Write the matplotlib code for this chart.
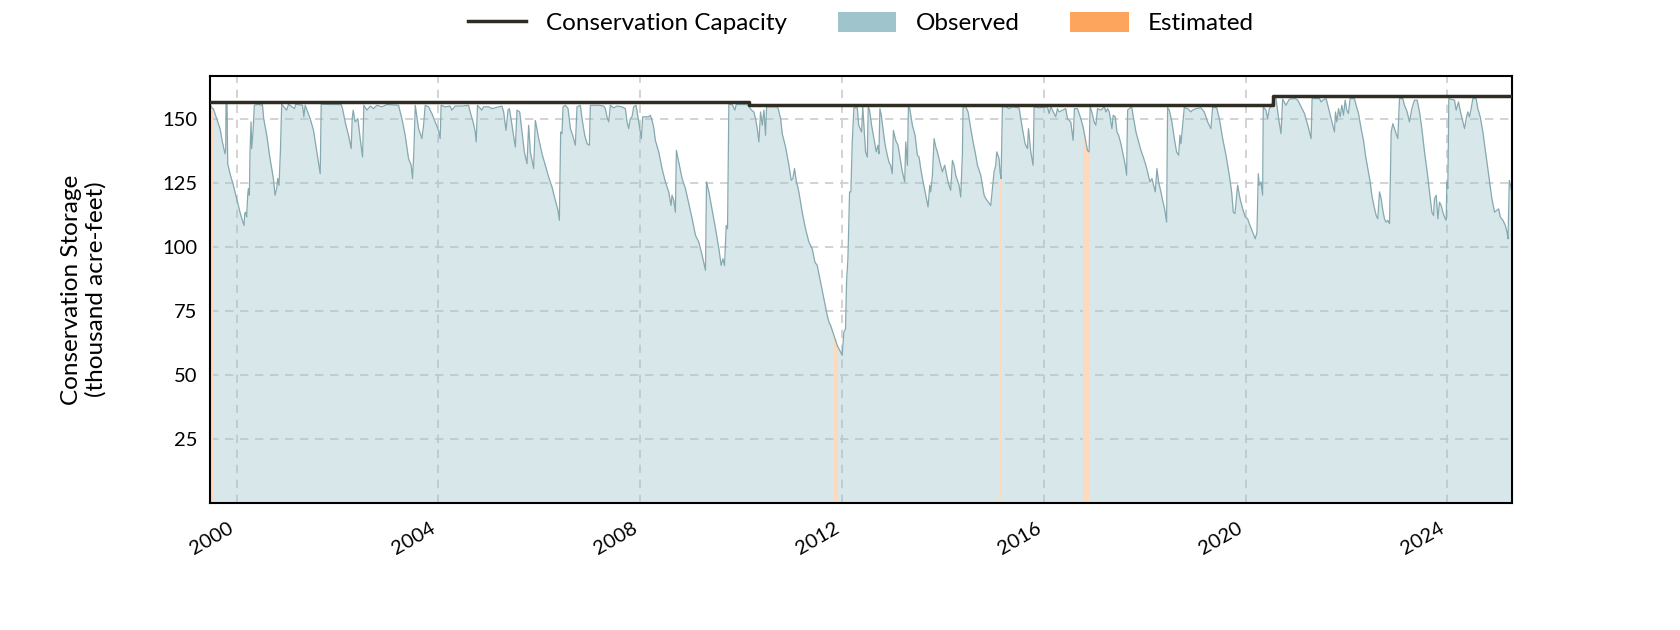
import numpy as np
import pandas as pd
import matplotlib
matplotlib.use("Agg")
import matplotlib.pyplot as plt
import matplotlib.dates as mdates
from matplotlib.lines import Line2D
from matplotlib.patches import Patch
from matplotlib.path import Path

plt.rcParams['font.family'] = ['Lato', 'DejaVu Sans']

# storage readings (decimal year, thousand acre-feet)
storage_year = [
    1999.471, 1999.517, 1999.537, 1999.603, 1999.670, 1999.716, 1999.769, 1999.782, 1999.789, 1999.808,
    1999.822, 1999.868, 1999.934, 2000.000, 2000.066, 2000.113, 2000.146, 2000.159, 2000.179, 2000.199,
    2000.219, 2000.232, 2000.252, 2000.265, 2000.285, 2000.298, 2000.324, 2000.351, 2000.430, 2000.483,
    2000.510, 2000.536, 2000.596, 2000.662, 2000.728, 2000.761, 2000.794, 2000.814, 2000.840, 2000.867,
    2000.893, 2000.992, 2001.025, 2001.144, 2001.171, 2001.303, 2001.330, 2001.356, 2001.455, 2001.521,
    2001.588, 2001.654, 2001.674, 2001.885, 2002.070, 2002.097, 2002.150, 2002.216, 2002.269, 2002.289,
    2002.309, 2002.348, 2002.401, 2002.447, 2002.494, 2002.520, 2002.580, 2002.646, 2002.712, 2002.778,
    2002.877, 2002.977, 2003.208, 2003.274, 2003.340, 2003.406, 2003.459, 2003.486, 2003.512, 2003.539,
    2003.605, 2003.671, 2003.704, 2003.737,
    2003.802, 2003.868, 2003.934, 2004.001, 2004.034, 2004.053, 2004.133, 2004.232, 2004.265, 2004.331,
    2004.463, 2004.596, 2004.629, 2004.695, 2004.728, 2004.748, 2004.774, 2004.860, 2004.893, 2004.993,
    2005.059, 2005.257, 2005.290, 2005.337, 2005.376, 2005.403, 2005.442, 2005.475, 2005.522, 2005.555,
    2005.608, 2005.654, 2005.700, 2005.753, 2005.786, 2005.819, 2005.852, 2005.885, 2005.918, 2005.985,
    2006.051, 2006.117, 2006.183, 2006.249, 2006.315, 2006.368, 2006.395, 2006.421, 2006.448, 2006.468,
    2006.514, 2006.567, 2006.613, 2006.659, 2006.712, 2006.745, 2006.811, 2006.844, 2006.897, 2006.944,
    2006.990, 2007.010, 2007.175, 2007.274, 2007.307, 2007.340, 2007.374, 2007.407, 2007.473, 2007.539,
    2007.638, 2007.704, 2007.737, 2007.770, 2007.803, 2007.836, 2007.869, 2007.916, 2007.969, 2008.022,
    2008.048, 2008.134,
    2008.167, 2008.200, 2008.233, 2008.266, 2008.299, 2008.366, 2008.432, 2008.498, 2008.564, 2008.610,
    2008.630, 2008.663, 2008.696, 2008.716, 2008.762, 2008.829, 2008.895, 2008.961, 2009.027, 2009.093,
    2009.159, 2009.225, 2009.291, 2009.311, 2009.358, 2009.424, 2009.490, 2009.556, 2009.602, 2009.635,
    2009.668, 2009.702, 2009.728, 2009.754, 2009.821, 2009.874, 2009.900, 2010.118, 2010.204, 2010.250,
    2010.284, 2010.317, 2010.350, 2010.383, 2010.416, 2010.449, 2010.482, 2010.502, 2010.713, 2010.733,
    2010.780, 2010.813, 2010.879, 2010.945, 2010.991, 2011.024, 2011.057, 2011.090, 2011.143, 2011.209,
    2011.275, 2011.342, 2011.408, 2011.461, 2011.507, 2011.573, 2011.639, 2011.705, 2011.739, 2011.772,
    2011.838, 2011.904, 2011.970, 2012.003, 2012.036, 2012.069, 2012.089, 2012.116, 2012.149, 2012.175,
    2012.202, 2012.235, 2012.301, 2012.330, 2012.387, 2012.410, 2012.466, 2012.500, 2012.519,
    2012.545, 2012.585, 2012.631, 2012.678, 2012.711, 2012.731, 2012.750, 2012.777, 2012.810, 2012.850,
    2012.896, 2012.929, 2012.962, 2012.995, 2013.015, 2013.061, 2013.108, 2013.160, 2013.194, 2013.240,
    2013.260, 2013.293, 2013.313, 2013.339, 2013.392, 2013.445, 2013.491, 2013.524, 2013.557, 2013.604,
    2013.656, 2013.703, 2013.736, 2013.756, 2013.789, 2013.822, 2013.855, 2013.888, 2013.934, 2013.987,
    2014.033, 2014.086, 2014.119, 2014.152, 2014.186, 2014.219, 2014.252, 2014.318, 2014.351, 2014.384,
    2014.397, 2014.450, 2014.496, 2014.549, 2014.596, 2014.648, 2014.682, 2014.715, 2014.748, 2014.781,
    2014.814, 2014.847, 2014.900, 2014.946, 2014.979, 2015.012, 2015.045, 2015.065, 2015.111, 2015.131,
    2015.151, 2015.178, 2015.244, 2015.310, 2015.376, 2015.508, 2015.541, 2015.574, 2015.627, 2015.674,
    2015.694, 2015.740, 2015.786, 2015.806, 2015.905, 2016.071, 2016.104, 2016.137, 2016.236, 2016.269,
    2016.302, 2016.434, 2016.467, 2016.533, 2016.580, 2016.606, 2016.666, 2016.732, 2016.778, 2016.831,
    2016.864, 2016.897,
    2016.917, 2016.950, 2016.996, 2017.029, 2017.062, 2017.129, 2017.195, 2017.228, 2017.261, 2017.294,
    2017.347, 2017.373, 2017.413, 2017.446, 2017.479, 2017.525, 2017.572, 2017.611, 2017.638, 2017.658,
    2017.691, 2017.737, 2017.777, 2017.823, 2017.876, 2017.922, 2017.969, 2018.021, 2018.061, 2018.101,
    2018.141, 2018.174, 2018.207, 2018.240, 2018.273, 2018.319, 2018.352, 2018.392, 2018.432, 2018.451,
    2018.484, 2018.537, 2018.584, 2018.630, 2018.670, 2018.696, 2018.716, 2018.749, 2018.782, 2018.848,
    2018.914, 2018.947, 2019.013, 2019.113, 2019.179, 2019.245, 2019.311, 2019.344, 2019.424, 2019.477,
    2019.543, 2019.609, 2019.675, 2019.721, 2019.754, 2019.787, 2019.820, 2019.840, 2019.887, 2019.940,
    2019.992, 2020.039, 2020.072, 2020.138, 2020.191, 2020.224, 2020.250, 2020.270, 2020.303, 2020.336,
    2020.349, 2020.402, 2020.435, 2020.469, 2020.502, 2020.548, 2020.601, 2020.654, 2020.700, 2020.733,
    2020.799, 2020.865, 2020.984, 2021.031, 2021.097, 2021.163, 2021.229, 2021.295,
    2021.315, 2021.395, 2021.461, 2021.494, 2021.527, 2021.593, 2021.626, 2021.659, 2021.692, 2021.725,
    2021.758, 2021.778, 2021.805, 2021.838, 2021.871, 2021.904, 2021.937, 2021.970, 2022.003, 2022.036,
    2022.069, 2022.155, 2022.188, 2022.235, 2022.287, 2022.334, 2022.373, 2022.420, 2022.466, 2022.499,
    2022.539, 2022.585, 2022.618, 2022.651, 2022.684, 2022.717, 2022.750, 2022.783, 2022.817, 2022.850,
    2022.883, 2022.916, 2022.949, 2022.982, 2023.015, 2023.048, 2023.114, 2023.147, 2023.200, 2023.246,
    2023.293, 2023.346, 2023.399, 2023.445, 2023.491, 2023.544, 2023.597, 2023.643, 2023.690, 2023.723,
    2023.743, 2023.776, 2023.809, 2023.842, 2023.875, 2023.908, 2023.941, 2023.974, 2023.987, 2024.007,
    2024.027, 2024.139, 2024.172, 2024.219, 2024.258, 2024.305, 2024.338, 2024.371, 2024.404, 2024.437,
    2024.470, 2024.503, 2024.569, 2024.602, 2024.649, 2024.701, 2024.768, 2024.834, 2024.880, 2024.933,
    2024.979, 2025.012, 2025.045, 2025.098, 2025.145, 2025.178, 2025.198, 2025.224, 2025.250, 2025.277,
]
storage_kaf = [
    155.6, 154.0, 153.9, 150.0, 146.1, 140.9, 136.3, 137.6, 155.6, 155.6,
    132.4, 128.5, 124.0, 118.8, 113.5, 110.3, 108.3, 112.9, 113.5, 111.6,
    120.1, 122.7, 120.1, 137.0, 148.7, 138.3, 144.8, 155.2, 155.6, 155.2,
    155.6, 150.0, 143.5, 134.4, 126.6, 120.1, 122.7, 126.6, 124.0, 137.0,
    155.6, 153.3, 155.6, 153.9, 155.6, 155.2, 150.7, 155.2, 150.0, 145.4,
    137.0, 128.5, 155.6, 155.5, 155.5, 153.9, 148.7, 143.5, 138.3, 150.0,
    153.3, 148.7, 150.0, 142.2, 135.0, 155.2, 153.3, 154.9, 153.9, 155.2,
    154.6, 155.5, 155.2, 150.0, 143.5, 134.4, 131.8, 126.6, 137.0, 155.2,
    146.1, 142.2, 147.4, 155.2,
    154.6, 152.0, 148.7, 145.4, 142.2, 155.2, 154.6, 154.9, 153.3, 154.9,
    154.9, 155.2, 152.6, 148.0, 144.8, 140.9, 155.2, 153.3, 154.6, 154.6,
    153.9, 154.9, 152.6, 145.4, 153.3, 153.9, 149.3, 144.8, 138.9, 153.3,
    152.6, 144.8, 137.0, 132.4, 147.4, 137.0, 133.7, 130.5, 149.3, 142.2,
    136.3, 131.8, 127.2, 123.3, 118.1, 114.2, 110.3, 144.8, 144.1, 154.6,
    155.2, 153.9, 146.1, 143.5, 139.6, 154.6, 155.2, 150.0, 143.5, 140.2,
    139.6, 155.2, 155.2, 154.9, 153.9, 150.7, 148.7, 155.2, 154.2, 154.9,
    154.6, 153.9, 148.7, 146.1, 150.0, 150.7, 154.6, 155.2, 148.7, 142.2,
    150.7, 150.7,
    150.7, 151.3, 149.3, 146.7, 141.5, 137.0, 130.5, 125.3, 121.4, 116.1,
    120.1, 118.1, 113.5, 137.6, 133.1, 126.6, 122.7, 116.8, 110.9, 104.4,
    101.8, 96.6, 90.8, 125.3, 121.4, 114.2, 107.0, 99.2, 92.7, 95.3,
    92.7, 108.3, 107.0, 155.6, 155.5, 153.3, 155.5, 155.5, 153.3, 152.6,
    150.0, 146.1, 140.9, 152.6, 147.4, 153.3, 143.5, 154.6, 154.6, 153.9,
    150.0, 144.1, 138.9, 131.8, 125.9, 126.6, 130.5, 125.9, 121.4, 113.5,
    107.0, 101.8, 99.2, 94.0, 92.7, 86.2, 79.7, 73.2, 70.6, 69.3,
    65.4, 61.5, 58.9, 57.6, 66.7, 68.0, 86.2, 95.3, 121.4, 121.4,
    140.9, 154.2, 154.2, 147.4, 144.8, 154.6, 137.0, 135.0, 154.6,
    153.3, 147.4, 142.2, 137.0, 139.6, 136.3, 153.9, 151.3, 146.1, 140.2,
    135.7, 133.1, 131.8, 128.5, 145.4, 141.5, 139.6, 133.1, 129.2, 125.3,
    140.9, 131.8, 154.6, 153.9, 147.4, 143.5, 135.7, 135.0, 130.5, 125.3,
    120.1, 115.5, 124.0, 121.4, 127.9, 142.2, 138.9, 137.0, 133.1, 129.2,
    131.8, 126.6, 124.0, 122.0, 133.7, 131.8, 127.9, 124.0, 119.4, 136.3,
    154.6, 154.6, 152.6, 146.1, 140.9, 135.7, 131.8, 129.8, 127.9, 124.0,
    120.1, 118.8, 117.4, 116.1, 122.7, 129.2, 131.8, 137.0, 134.4, 129.2,
    126.6, 154.6, 154.6, 153.9, 154.6, 154.2, 150.0, 146.1, 140.2, 138.3,
    146.1, 137.0, 131.8, 154.6, 154.2, 154.6, 152.0, 154.6, 150.7, 153.9,
    152.6, 153.9, 150.0, 148.7, 141.5, 153.9, 153.9, 150.0, 146.7, 141.0,
    137.6, 137.0,
    154.6, 152.6, 148.7, 147.4, 153.9, 153.3, 154.6, 152.6, 153.9, 152.6,
    146.1, 151.3, 150.7, 144.8, 143.5, 140.2, 135.7, 131.8, 127.9, 153.3,
    153.9, 154.6, 150.0, 144.8, 140.9, 137.6, 135.0, 131.8, 128.5, 125.3,
    126.6, 124.0, 121.4, 130.5, 125.3, 121.4, 118.1, 114.8, 109.6, 154.3,
    153.3, 148.7, 142.2, 137.0, 135.7, 143.5, 140.2, 147.4, 154.3, 153.9,
    152.6, 153.3, 153.9, 154.2, 152.6, 148.7, 146.1, 154.3, 154.3, 150.0,
    142.2, 135.7, 127.9, 121.4, 113.5, 112.9, 120.1, 124.0, 118.8, 114.8,
    111.6, 110.9, 109.0, 105.7, 103.1, 105.7, 128.5, 124.0, 125.3, 120.1,
    154.6, 153.3, 150.0, 153.9, 154.6, 157.6, 157.8, 150.0, 144.1, 157.6,
    155.2, 157.6, 157.8, 157.2, 154.6, 152.0, 147.4, 142.2,
    157.8, 157.8, 157.8, 156.5, 157.2, 157.8, 155.2, 152.6, 150.0, 147.4,
    144.8, 152.6, 148.7, 153.9, 150.7, 155.2, 151.3, 157.2, 153.3, 152.0,
    157.8, 157.8, 155.2, 152.0, 146.1, 141.5, 135.7, 130.5, 125.3, 120.1,
    116.1, 112.2, 110.9, 121.4, 118.8, 114.2, 110.9, 109.6, 110.3, 109.0,
    144.8, 148.0, 146.1, 144.1, 142.2, 157.8, 157.8, 155.2, 152.6, 148.7,
    153.9, 157.2, 157.2, 152.6, 146.1, 137.0, 129.2, 121.4, 113.5, 112.2,
    118.8, 120.1, 110.9, 117.4, 116.1, 113.5, 111.6, 110.3, 125.3, 122.7,
    157.8, 157.2, 153.3, 156.5, 152.6, 148.7, 146.1, 150.0, 152.6, 150.7,
    153.9, 157.8, 157.8, 153.9, 150.7, 144.8, 135.0, 125.3, 118.8, 113.5,
    114.2, 114.8, 111.6, 110.3, 108.3, 105.7, 103.1, 125.9, 124.0, 120.7,
]

# periods flagged as estimated
est_start = [1999.471, 1999.790, 2000.700, 2002.860, 2003.080, 2011.835, 2015.128, 2016.775, 2022.880, 2023.712]
est_end = [1999.530, 1999.794, 2000.703, 2002.866, 2003.083, 2011.925, 2015.152, 2016.897, 2022.884, 2023.726]

# conservation capacity (thousand acre-feet)
cap_year = [1999.471, 2010.150, 2020.540, 2025.277]
cap_kaf = [156.5, 155.2, 158.7, 158.7]

OBS_COLOR = '#9fc4cb'
OBS_LINE = '#86a9b0'
EST_COLOR = '#fda55c'
EST_FILL = '#fed9bc'
CAP_COLOR = '#2f2c24'


def to_dates(years):
    years = np.asarray(years, dtype=float)
    whole = years.astype(int)
    base = pd.to_datetime([f"{y}-01-01" for y in whole])
    return base + pd.to_timedelta((years - whole) * 365.25, unit='D')


dates = to_dates(storage_year)
values = np.array(storage_kaf)
ytop = max(cap_kaf) * 1.05

fig = plt.figure(figsize=(16.8, 6.3), dpi=100)
ax = fig.add_axes([0.125, 0.2016, 0.775, 0.6778])
ax.set_axisbelow(True)

ax.fill_between(dates, 0, values, color=OBS_COLOR, alpha=0.4, lw=0, zorder=1)

# estimated stretches: same area, clipped to the flagged periods
est = ax.fill_between(dates, 0, values, color=EST_FILL, lw=0, zorder=1.2)
x0s = mdates.date2num(to_dates(est_start))
x1s = mdates.date2num(to_dates(est_end))
verts, codes = [], []
for a, b in zip(x0s, x1s):
    verts += [(a, 0), (b, 0), (b, ytop), (a, ytop), (a, 0)]
    codes += [Path.MOVETO, Path.LINETO, Path.LINETO, Path.LINETO, Path.CLOSEPOLY]
est.set_clip_path(Path(verts, codes), ax.transData)

ax.plot(dates, values, color=OBS_LINE, lw=0.9, zorder=2)
ax.plot(to_dates(cap_year), cap_kaf, color=CAP_COLOR, lw=2.5, drawstyle='steps-post', zorder=3)

ax.set_xlim(dates[0], dates[-1])
ax.set_ylim(0, ytop)
ax.set_yticks([25, 50, 75, 100, 125, 150])
ax.xaxis.set_major_locator(mdates.YearLocator(4))
ax.xaxis.set_major_formatter(mdates.DateFormatter('%Y'))

ax.grid(True, color='#cccccc', linestyle=(0, (5, 4)), lw=1.2)
ax.tick_params(axis='both', length=0, labelsize=14.5)
ax.tick_params(axis='x', pad=12)
ax.tick_params(axis='y', pad=9)
for lab in ax.get_xticklabels():
    lab.set_rotation(30)
    lab.set_ha('right')
for s in ax.spines.values():
    s.set_linewidth(1.5)
    s.set_color('black')

ax.set_ylabel('Conservation Storage\n(thousand acre-feet)', fontsize=17.5, labelpad=40)

handles = [
    Line2D([], [], color=CAP_COLOR, lw=2.5),
    Patch(facecolor=OBS_COLOR, edgecolor='none'),
    Patch(facecolor=EST_COLOR, edgecolor='none'),
]
ax.legend(handles, ['Conservation Capacity', 'Observed', 'Estimated'],
          loc='center', bbox_to_anchor=(0.5, 1.124), ncol=3, frameon=False,
          fontsize=17.5, handlelength=2.4, handleheight=0.9, handletextpad=0.8,
          columnspacing=2.1)

fig.savefig('out.png', dpi=100)
